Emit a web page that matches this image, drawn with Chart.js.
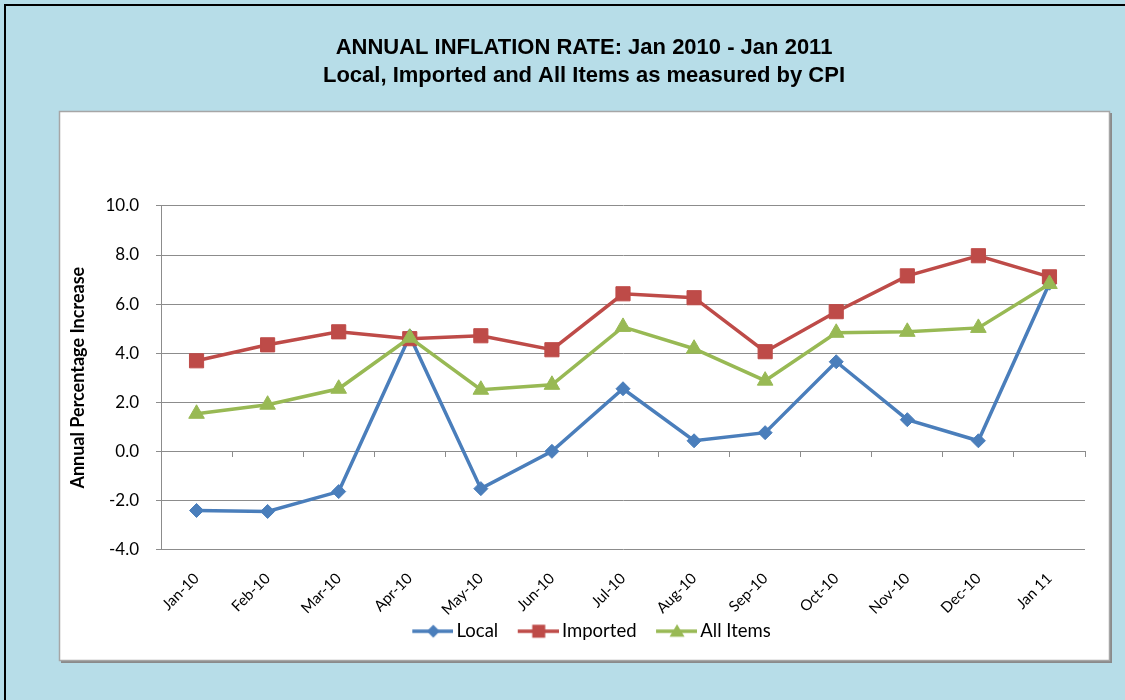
<!DOCTYPE html>
<html lang="en">
<head>
<meta charset="UTF-8">
<title>Annual Inflation Rate</title>
<script src="https://cdn.jsdelivr.net/npm/chart.js"></script>
<style>
  html, body { margin: 0; padding: 0; background: #b7dde8; }
  #wrap { width: 1125px; height: 700px; }
</style>
</head>
<body>
<div id="wrap"><canvas id="cpiChart" width="1125" height="700"></canvas></div>
<script>
// values
const months = ['Jan-10', 'Feb-10', 'Mar-10', 'Apr-10', 'May-10', 'Jun-10', 'Jul-10',
                'Aug-10', 'Sep-10', 'Oct-10', 'Nov-10', 'Dec-10', 'Jan 11'];
const local    = [-2.41, -2.45, -1.64, 4.7, -1.52, 0.0, 2.55, 0.43, 0.76, 3.65, 1.29, 0.43, 6.85];
const imported = [3.69, 4.34, 4.87, 4.59, 4.71, 4.14, 6.42, 6.26, 4.06, 5.69, 7.15, 7.97, 7.11];
const allItems = [1.53, 1.9, 2.55, 4.63, 2.51, 2.71, 5.07, 4.18, 2.88, 4.83, 4.87, 5.03, 6.82];
const yMin = -4, yMax = 10, yStep = 2;

const BLUE = '#4a7ebb', RED = '#be4b48', GREEN = '#98b954', GRID = '#8c8c8c';
const FONT = 'Lato, "Open Sans", sans-serif';

// legend icon: short line with the series marker in the middle
// (canvas is wider than the legend box so the line sits close to its text)
function legendIcon(color, shape) {
    const c = document.createElement('canvas');
    c.width = 62; c.height = 20;
    const g = c.getContext('2d');
    const cx = 42, cy = 10;
    g.strokeStyle = color; g.fillStyle = color; g.lineWidth = 3.5;
    g.beginPath(); g.moveTo(21, cy); g.lineTo(62, cy); g.stroke();
    g.beginPath();
    if (shape === 'diamond') {
        g.moveTo(cx, cy - 6.5); g.lineTo(cx + 6.5, cy); g.lineTo(cx, cy + 6.5); g.lineTo(cx - 6.5, cy);
    } else if (shape === 'square') {
        g.rect(cx - 6.5, cy - 6.5, 13, 13);
    } else {
        g.moveTo(cx, cy - 7); g.lineTo(cx + 7.5, cy + 5.5); g.lineTo(cx - 7.5, cy + 5.5);
    }
    g.closePath(); g.fill();
    return c;
}
const icons = [legendIcon(BLUE, 'diamond'), legendIcon(RED, 'square'), legendIcon(GREEN, 'triangle')];

const framePlugin = {
    id: 'frame',
    beforeDraw(chart) {
        const ctx = chart.ctx;
        ctx.save();
        ctx.fillStyle = '#b7dde8';
        ctx.fillRect(0, 0, chart.width, chart.height);
        ctx.strokeStyle = '#000';
        ctx.lineWidth = 2;
        ctx.strokeRect(5, 5, chart.width + 20, chart.height + 20);
        // white plot panel
        ctx.fillStyle = '#8a8a8a';
        ctx.fillRect(61, 113, 1051, 550);
        ctx.fillStyle = '#fff';
        ctx.fillRect(59, 111, 1051, 550);
        ctx.strokeStyle = '#a6a6a6';
        ctx.lineWidth = 1.5;
        ctx.strokeRect(59.5, 111.5, 1050, 549);
        ctx.restore();
    }
};

new Chart(document.getElementById('cpiChart').getContext('2d'), {
    type: 'line',
    data: {
        labels: months,
        datasets: [
            { label: 'Local', data: local, borderColor: BLUE, backgroundColor: BLUE,
              borderWidth: 3.5, pointStyle: 'rectRot', pointRadius: 7, pointBorderWidth: 1, order: 3 },
            { label: 'Imported', data: imported, borderColor: RED, backgroundColor: RED,
              borderWidth: 3.5, pointStyle: 'rect', pointRadius: 10, pointBorderWidth: 1, order: 2 },
            { label: 'All Items', data: allItems, borderColor: GREEN, backgroundColor: GREEN,
              borderWidth: 3.5, pointStyle: 'triangle', pointRadius: 9, pointBorderWidth: 1, order: 1 }
        ]
    },
    options: {
        responsive: false,
        animation: false,
        layout: { padding: { left: 83, right: 40, top: 4, bottom: 49.5 } },
        plugins: {
            title: {
                display: true,
                text: ['ANNUAL INFLATION RATE: Jan 2010 - Jan 2011',
                       'Local, Imported and All Items as measured by CPI'],
                color: '#000',
                font: { family: '"Liberation Sans", Arial, sans-serif', size: 22, weight: 'bold', lineHeight: 1.28 },
                padding: { top: 30, bottom: 115.6 }
            },
            legend: {
                position: 'bottom',
                labels: {
                    usePointStyle: true,
                    pointStyleWidth: 50,
                    boxHeight: 16,
                    padding: 4.5,
                    color: '#000',
                    font: { family: FONT, size: 18.5 },
                    generateLabels(chart) {
                        return chart.data.datasets.map((ds, i) => ({
                            text: ds.label, pointStyle: icons[i], fillStyle: ds.borderColor,
                            strokeStyle: ds.borderColor, lineWidth: 0, hidden: false, datasetIndex: i
                        }));
                    }
                }
            },
            tooltip: { enabled: false }
        },
        scales: {
            x: {
                offset: true,
                grid: { display: false, drawTicks: false },
                border: { display: false },
                ticks: { minRotation: 45, maxRotation: 45, padding: 20, color: '#000',
                         font: { family: FONT, size: 15 } },
                afterFit(s) { s.height = 68; }
            },
            x2: {
                type: 'category',
                labels: months,
                position: { y: 0 },
                offset: true,
                grid: { offset: true, drawOnChartArea: false, drawTicks: true, tickLength: 5, color: GRID },
                border: { display: true, color: GRID, width: 1 },
                ticks: { display: false }
            },
            y: {
                min: yMin,
                max: yMax,
                ticks: { stepSize: yStep, padding: 17, color: '#000',
                         font: { family: FONT, size: 17 },
                         callback: v => v.toFixed(1) },
                grid: { color: GRID, lineWidth: 1, tickLength: 5 },
                border: { display: true, color: GRID, width: 1 },
                title: { display: true, text: 'Annual Percentage Increase', color: '#000',
                         font: { family: FONT, size: 18, weight: 'bold' },
                         padding: { top: -16, bottom: 0 } },
                afterFit(s) { s.width = 78; }
            }
        }
    },
    plugins: [framePlugin]
});
</script>
</body>
</html>
